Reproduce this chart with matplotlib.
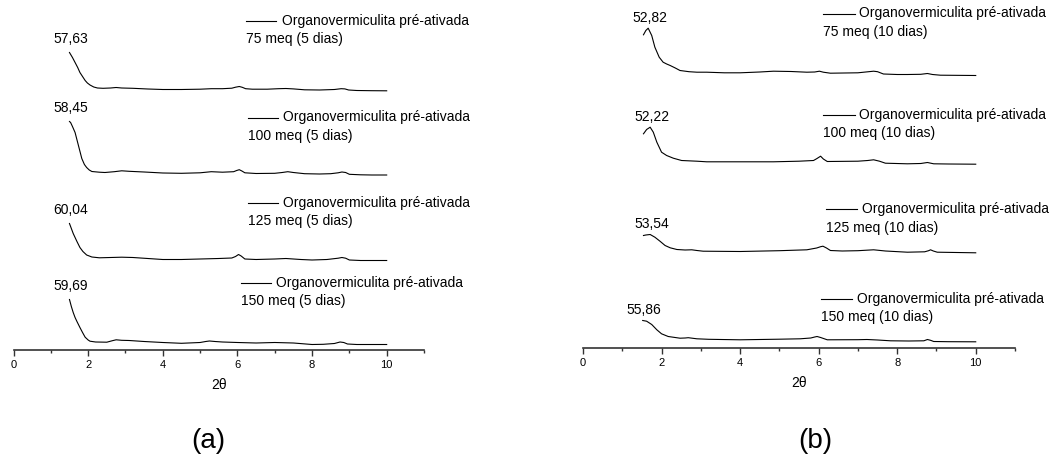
import numpy as np
import matplotlib
matplotlib.use('Agg')
import matplotlib.pyplot as plt
from matplotlib.lines import Line2D
from matplotlib.ticker import MultipleLocator

plt.rcParams['font.family'] = ['Liberation Sans', 'DejaVu Sans']

W, H = 1061, 457

# --- (a) 5 dias : 2theta / intensidade relativa a linha de base (u.a.)
xa1 = [1.5,1.58,1.65,1.72,1.78,1.85,1.92,1.98,2.05,2.15,2.25,2.4,2.6,2.75,2.9,3.2,3.6,4.0,4.5,5.0,5.3,5.6,5.85,5.95,6.05,6.13,6.22,6.4,6.8,7.1,7.3,7.5,7.8,8.2,8.6,8.78,8.88,8.98,9.2,9.6,10]
ia1 = [37,32,27,22,17,13,9,6.5,4.5,2.5,1.5,1.2,1.5,2,1.5,1.2,0.5,0,0,0.3,0.8,0.8,1.3,2.3,3,2.2,0.8,0.3,0.3,0.8,1,0.6,-0.3,-0.5,0,0.8,0.6,-0.5,-1,-1.2,-1.3]
xa2 = [1.5,1.53,1.58,1.65,1.74,1.83,1.9,1.96,2.03,2.1,2.3,2.45,2.7,2.9,3.1,3.5,4.0,4.5,5.0,5.3,5.6,5.9,5.98,6.05,6.12,6.2,6.5,7.0,7.2,7.35,7.5,7.8,8.2,8.5,8.7,8.8,8.9,9.0,9.3,9.6,10]
ia2 = [51,50,46,40,27,14,8,5,2.5,1,0.3,0,0.8,1.7,1.2,0.5,-0.5,-0.8,-0.3,0.8,0.3,0.8,2,2.8,1.5,-0.3,-1,-0.8,0,0.8,0,-1.2,-1.5,-1.2,-0.3,0.5,0,-1.8,-2.3,-2.5,-2.5]
xa3 = [1.5,1.55,1.6,1.65,1.7,1.78,1.86,1.96,2.1,2.3,2.6,2.9,3.2,3.6,4.0,4.5,5.0,5.5,5.85,5.95,6.03,6.1,6.2,6.5,7.0,7.3,7.7,8.0,8.4,8.7,8.8,8.9,9.0,9.3,9.6,10]
ia3 = [35,30,25,21,17,11,7,3.5,1.5,0.7,1,1.3,1,0,-1,-1,-0.5,0,0.5,2,4,2.5,-0.5,-1,-0.5,0,-1,-1.5,-1,0.3,1,0.3,-1.5,-2,-2,-2]
xa4 = [1.5,1.55,1.6,1.65,1.7,1.78,1.85,1.92,2.0,2.05,2.2,2.5,2.65,2.75,2.9,3.1,3.5,4.0,4.5,5.0,5.15,5.25,5.4,5.6,6.0,6.5,7.0,7.5,8.0,8.3,8.6,8.75,8.85,8.95,9.2,9.6,10]
ia4 = [43,36,30,25,21,15,10,5.3,2.5,1.3,0.5,0.3,1.8,2.7,2.2,2,1,0,-0.8,0,1,1.5,1,0.5,0,-0.5,0,-0.5,-2,-1.8,-1,0.5,0,-1.5,-2,-2,-2]
peaks_a = ['57,63', '58,45', '60,04', '59,69']
meq_a = ['75 meq (5 dias)', '100 meq (5 dias)', '125 meq (5 dias)', '150 meq (5 dias)']
offsets_a = [260, 177, 91, 7]

# --- (b) 10 dias
xb1 = [1.54,1.6,1.66,1.75,1.83,1.94,2.04,2.13,2.22,2.35,2.47,2.7,2.9,3.15,3.6,4.0,4.5,4.85,5.3,5.7,5.9,6.02,6.12,6.3,7.0,7.25,7.4,7.5,7.65,8.0,8.26,8.6,8.77,8.9,9.1,10]
ib1 = [37.7,42,44.3,37,25.3,15.3,10.3,8.5,7,4.5,2,0.8,0.3,0.3,-0.3,-0.3,0.5,1.3,1,0.3,0.5,1.3,0.3,-0.7,-0.3,0.7,1.3,0.8,-1.5,-2,-2,-1.8,-1,-2,-2.7,-3]
xb2 = [1.54,1.62,1.71,1.79,1.88,2.0,2.13,2.3,2.51,2.9,3.15,4.0,4.85,5.5,5.87,5.95,6.05,6.12,6.22,7.0,7.25,7.4,7.55,7.7,8.26,8.6,8.77,8.93,9.3,10]
ib2 = [27.7,32,34.3,29.3,19.3,9.3,6,3.3,1,0.3,-0.3,-0.3,-0.3,0.3,1,2.8,5.3,2.5,0,0.3,1,1.7,0.3,-1.7,-2.3,-2,-1,-2.3,-2.5,-2.7]
xb3 = [1.54,1.6,1.71,1.83,1.96,2.09,2.22,2.39,2.6,2.77,2.9,3.06,4.0,5.0,5.7,5.95,6.05,6.11,6.2,6.3,6.6,7.0,7.4,7.7,8.26,8.7,8.8,8.85,8.92,9.02,10]
ib3 = [16,16.5,17,14.3,10.3,6,3.7,2,1.5,1.7,1,0.3,0,0.8,1.7,3.5,4.8,5.3,3.5,1,0.5,0.8,1.7,0.5,-0.7,-0.3,0.8,1.7,0.5,-0.7,-1.3]
xb4 = [1.52,1.62,1.75,1.88,2.0,2.17,2.47,2.6,2.68,2.78,2.9,3.2,4.0,5.0,5.53,5.8,5.9,5.96,6.05,6.22,7.0,7.23,7.5,7.83,8.3,8.68,8.77,8.85,8.93,9.3,10]
ib4 = [19,18.3,15,9.7,5.7,3,1.3,1.5,1.8,1.3,0.7,0.2,-0.3,0.3,0.7,1.5,2.5,3,2,-0.3,-0.2,0,-0.5,-1.3,-1.5,-1.3,0,-0.8,-2,-2.2,-2.3]
peaks_b = ['52,82', '52,22', '53,54', '55,86']
meq_b = ['75 meq (10 dias)', '100 meq (10 dias)', '125 meq (10 dias)', '150 meq (10 dias)']
offsets_b = [275, 186, 96, 8]

serie = 'Organovermiculita pré-ativada'


def fx(px):
    return px / W


def fy(py):
    return 1 - py / H


fig = plt.figure(figsize=(W / 100, H / 100), dpi=100)


def makeAxes(x0, x11, yaxis):
    ax = fig.add_axes([fx(x0), fy(yaxis), fx(x11 - x0), yaxis / H])
    ax.set_xlim(0, 11)
    ax.set_ylim(0, yaxis)
    for s in ['left', 'right', 'top']:
        ax.spines[s].set_visible(False)
    ax.spines['bottom'].set_linewidth(1.2)
    ax.spines['bottom'].set_color('#333333')
    ax.set_yticks([])
    ax.xaxis.set_minor_locator(MultipleLocator(1))
    ax.set_xticks([0, 2, 4, 6, 8, 10])
    ax.set_xticklabels(['0', '2', '4', '6', '8', '10'])
    ax.tick_params(axis='x', which='major', direction='out', length=4, width=1, labelsize=8, pad=3.5, colors='#333333', labelcolor='black')
    ax.tick_params(axis='x', which='minor', direction='out', length=2.5, width=1, colors='#333333')
    ax.set_xlabel('2θ', fontsize=10, labelpad=6)
    ax.patch.set_visible(False)
    return ax


def legendItem(lx0, lx1, ly, tx, txt2):
    fig.add_artist(Line2D([fx(lx0), fx(lx1)], [fy(ly), fy(ly)], transform=fig.transFigure, color='black', lw=0.8))
    fig.text(fx(tx), fy(ly), serie, fontsize=10, va='center', ha='left')
    fig.text(fx(lx0), fy(ly + 18.5), txt2, fontsize=10, va='center', ha='left')


def drawPanel(ax, xs, ys, offs, peaks, gap):
    for x, y, o, p in zip(xs, ys, offs, peaks):
        y = np.array(y) + o
        ax.plot(x, y, color='black', lw=0.8)
        k = int(np.argmax(y))
        ax.annotate(p, (x[k], y[k]), xytext=(1, gap), textcoords='offset points', ha='center', va='bottom', fontsize=10)


axa = makeAxes(13.5, 424, 349.5)
drawPanel(axa, [xa1, xa2, xa3, xa4], [ia1, ia2, ia3, ia4], offsets_a, peaks_a, 5)

axb = makeAxes(583, 1015, 347.5)
drawPanel(axb, [xb1, xb2, xb3, xb4], [ib1, ib2, ib3, ib4], offsets_b, peaks_b, 2.5)

# legendas (a)
legendItem(246, 276, 20.5, 282, meq_a[0])
legendItem(248, 278, 117.5, 283, meq_a[1])
legendItem(248, 278, 203, 283, meq_a[2])
legendItem(241, 271, 283, 276, meq_a[3])
# legendas (b)
legendItem(823, 855, 13.5, 859, meq_b[0])
legendItem(823, 855, 114.5, 859, meq_b[1])
legendItem(826, 857, 209, 862, meq_b[2])
legendItem(821, 852, 299, 857, meq_b[3])

fig.text(fx(208), fy(441), '(a)', fontsize=20, ha='center', va='center')
fig.text(fx(815), fy(441), '(b)', fontsize=20, ha='center', va='center')

fig.savefig('out.png', dpi=100)
